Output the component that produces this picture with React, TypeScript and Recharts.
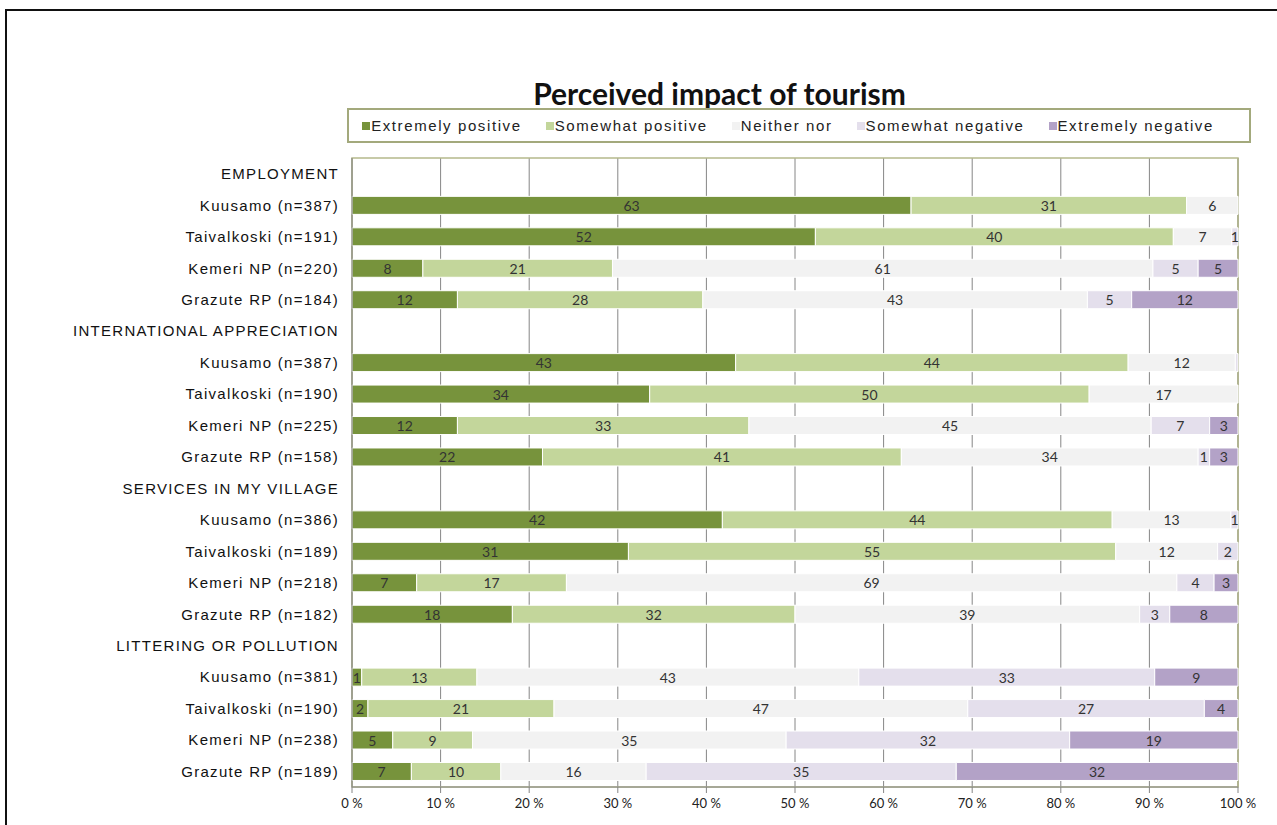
import React from 'react';
import { BarChart, Bar, XAxis, YAxis, CartesianGrid, Legend, LabelList, ReferenceArea } from 'recharts';

const rowLabels = [
  'EMPLOYMENT', 'Kuusamo (n=387)', 'Taivalkoski (n=191)', 'Kemeri NP (n=220)', 'Grazute RP (n=184)',
  'INTERNATIONAL APPRECIATION', 'Kuusamo (n=387)', 'Taivalkoski (n=190)', 'Kemeri NP (n=225)', 'Grazute RP (n=158)',
  'SERVICES IN MY VILLAGE', 'Kuusamo (n=386)', 'Taivalkoski (n=189)', 'Kemeri NP (n=218)', 'Grazute RP (n=182)',
  'LITTERING OR POLLUTION', 'Kuusamo (n=381)', 'Taivalkoski (n=190)', 'Kemeri NP (n=238)', 'Grazute RP (n=189)',
];

const extremelyPositive = [null, 63.1, 52.3, 8.0, 11.9, null, 43.3, 33.6, 11.9, 21.5, null, 41.8, 31.2, 7.3, 18.1, null, 1.1, 1.8, 4.6, 6.7];
const somewhatPositive = [null, 31.1, 40.4, 21.4, 27.7, null, 44.3, 49.6, 32.9, 40.5, null, 44.0, 55.0, 16.9, 31.9, null, 13.0, 21.0, 9.0, 10.1];
const neitherNor = [null, 5.8, 6.6, 61.0, 43.4, null, 12.1, 16.8, 45.4, 33.5, null, 13.4, 11.5, 68.9, 38.9, null, 43.1, 46.7, 35.4, 16.4];
const somewhatNegative = [null, 0, 0.7, 5.1, 5.0, null, 0.3, 0, 6.6, 1.3, null, 0.8, 2.3, 4.2, 3.4, null, 33.4, 26.7, 32.0, 35.0];
const extremelyNegative = [null, 0, 0, 4.5, 12.0, null, 0, 0, 3.2, 3.2, null, 0, 0, 2.7, 7.7, null, 9.4, 3.8, 19.0, 31.8];

const xTicks = [0, 10, 20, 30, 40, 50, 60, 70, 80, 90, 100];

const series = [
  { key: 'ep', name: 'Extremely positive', color: '#77933c', values: extremelyPositive },
  { key: 'sp', name: 'Somewhat positive', color: '#c3d69b', values: somewhatPositive },
  { key: 'nn', name: 'Neither nor', color: '#f2f2f2', values: neitherNor },
  { key: 'sn', name: 'Somewhat negative', color: '#e4dfec', values: somewhatNegative },
  { key: 'en', name: 'Extremely negative', color: '#b3a2c7', values: extremelyNegative },
];

const data = rowLabels.map((label, i) => {
  const row: any = { id: String(i), label };
  series.forEach((s) => {
    row[s.key] = s.values[i];
  });
  return row;
});

const SegmentLabel = (props: any) => {
  const { x, y, width, height, value } = props;
  if (value == null) return null;
  const v = Math.round(value);
  if (v === 0) return null;
  return (
    <text
      x={x + width / 2}
      y={y + height / 2}
      textAnchor="middle"
      dominantBaseline="central"
      fontFamily="Lato, 'DejaVu Sans', sans-serif"
      fontSize={14}
      fill="#333"
    >
      {v}
    </text>
  );
};

const CategoryTick = (props: any) => {
  const { x, y, payload } = props;
  const idx = Number(payload.value);
  return (
    <text
      x={x - 5}
      y={y}
      textAnchor="end"
      dominantBaseline="central"
      fontFamily="'Liberation Sans', Arial, sans-serif"
      fontSize={15}
      letterSpacing={1.3}
      fill="#111"
    >
      {rowLabels[idx]}
    </text>
  );
};

// legend drawn in the series order, not the sorted payload order
const LegendBox = () => (
  <div
    style={{
      boxSizing: 'border-box',
      width: '100%',
      height: '100%',
      border: '2px solid #a3a97c',
      display: 'flex',
      alignItems: 'center',
      justifyContent: 'center',
      gap: 24,
      paddingRight: 22,
      fontFamily: "'Liberation Sans', Arial, sans-serif",
      fontSize: 15,
      letterSpacing: 1.6,
      color: '#222',
    }}
  >
    {series.map((s) => (
      <div key={s.key} style={{ display: 'flex', alignItems: 'center' }}>
        <span style={{ display: 'inline-block', width: 8, height: 8, background: s.color, marginRight: 1 }} />
        <span>{s.name}</span>
      </div>
    ))}
  </div>
);

export default function App() {
  return (
    <div style={{ position: 'absolute', left: 0, top: 0, width: 1277, height: 825, overflow: 'hidden', background: '#fff' }}>
      <div
        style={{
          position: 'absolute',
          left: 5,
          top: 9,
          width: 1320,
          height: 900,
          borderTop: '2px solid #111',
          borderLeft: '2px solid #111',
        }}
      />
      <div
        style={{
          position: 'absolute',
          left: 0,
          top: 76,
          width: 1439,
          textAlign: 'center',
          fontFamily: "Lato, 'Open Sans', sans-serif",
          fontWeight: 700,
          fontSize: 30,
          lineHeight: '34px',
          color: '#111',
        }}
      >
        Perceived impact of tourism
      </div>
      <div style={{ position: 'absolute', left: 0, top: 0 }}>
        <BarChart
          width={1277}
          height={825}
          data={data}
          layout="vertical"
          margin={{ top: 158, right: 39, bottom: 0, left: 8 }}
          barCategoryGap="22%"
        >
          <CartesianGrid vertical horizontal={false} stroke="#868686" />
          <ReferenceArea x1={0} x2={100} fill="none" stroke="#b5b98c" strokeWidth={1.5} />
          <XAxis
            type="number"
            domain={[0, 100]}
            ticks={xTicks}
            height={38}
            tickFormatter={(v) => `${v} %`}
            axisLine={{ stroke: '#868686' }}
            tickLine={{ stroke: '#868686' }}
            tickSize={6}
            tickMargin={6}
            tick={{ fontFamily: "Lato, 'DejaVu Sans', sans-serif", fontSize: 13, fill: '#222' }}
            interval={0}
          />
          <YAxis
            type="category"
            dataKey="id"
            width={344}
            axisLine={{ stroke: '#868686' }}
            tickLine={false}
            tick={<CategoryTick />}
            interval={0}
          />
          <Legend
            layout="vertical"
            align="center"
            verticalAlign="middle"
            wrapperStyle={{ left: 347, top: 108, width: 904, height: 35 }}
            content={<LegendBox />}
          />
          {series.map((s) => (
            <Bar
              key={s.key}
              dataKey={s.key}
              name={s.name}
              stackId="a"
              fill={s.color}
              stroke="#ffffff"
              strokeWidth={1}
              isAnimationActive={false}
            >
              <LabelList dataKey={s.key} content={<SegmentLabel />} />
            </Bar>
          ))}
        </BarChart>
      </div>
    </div>
  );
}
